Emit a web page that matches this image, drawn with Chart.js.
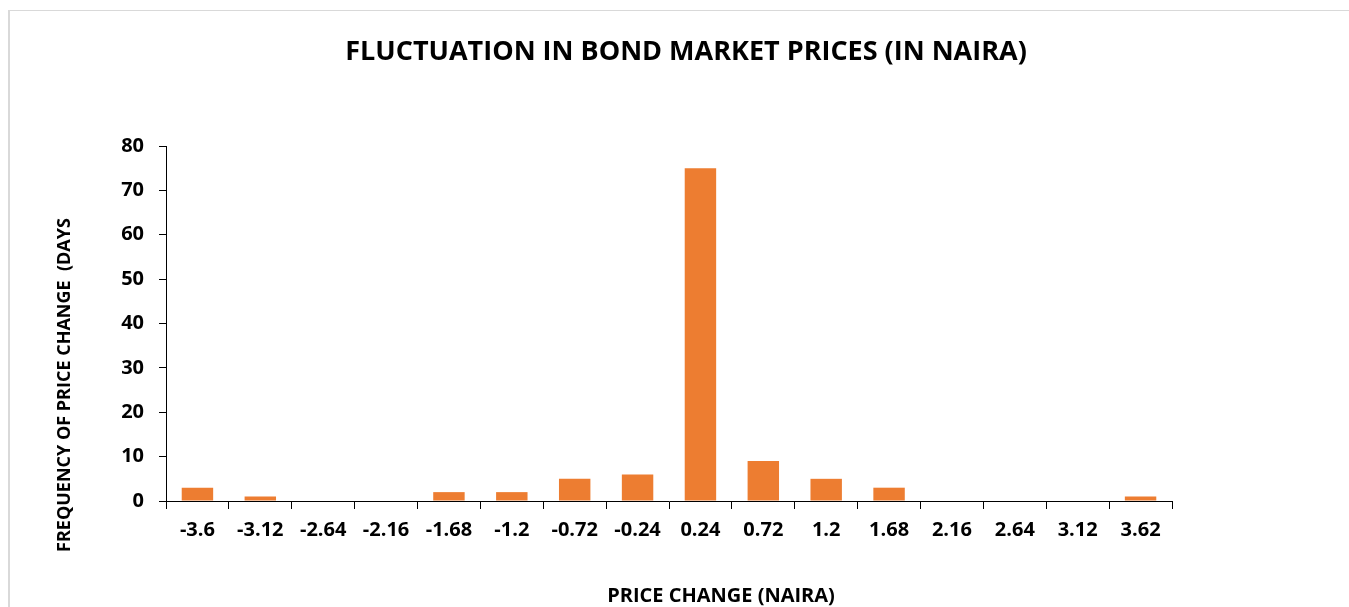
<!DOCTYPE html>
<html>
<head>
<meta charset="utf-8">
<script src="https://cdn.jsdelivr.net/npm/chart.js@4/dist/chart.umd.min.js"></script>
<style>
    html, body { margin: 0; padding: 0; background: #fff; overflow: hidden; }
    #cadre {
        position: absolute;
        left: 8px;
        top: 10px;
        border-top: 1px solid #d9d9d9;
        border-left: 2px solid #d9d9d9;
        width: 1352px;
        height: 610px;
    }
</style>
</head>
<body>
<div id="cadre">
    <canvas id="graphe" width="1352" height="610"></canvas>
</div>
<script>
// données du graphique
const categories = ['-3.6', '-3.12', '-2.64', '-2.16', '-1.68', '-1.2', '-0.72', '-0.24',
                    '0.24', '0.72', '1.2', '1.68', '2.16', '2.64', '3.12', '3.62'];
const frequences = [3, 1, 0, 0, 2, 2, 5, 6, 75, 9, 5, 3, 0, 0, 0, 1];
const yTicks = [0, 10, 20, 30, 40, 50, 60, 70, 80];

const titre = 'FLUCTUATION IN BOND MARKET PRICES (IN NAIRA)';
const titreY = 'FREQUENCY OF PRICE CHANGE  (DAYS';
const titreX = 'PRICE CHANGE (NAIRA)';

const police = '"Open Sans", sans-serif';

// titres dessinés à la main (positions comme dans Excel)
const titres = {
    id: 'titres',
    afterDraw(chart) {
        const ctx = chart.ctx;
        ctx.save();
        ctx.fillStyle = '#000';
        ctx.textAlign = 'center';
        ctx.textBaseline = 'middle';
        ctx.font = 'bold 27px ' + police;
        ctx.fillText(titre, 676, 41);

        ctx.font = 'bold 20px ' + police;
        ctx.fillText(titreX, 711, 585);

        ctx.font = 'bold 18px ' + police;
        ctx.translate(55, 374);
        ctx.rotate(-Math.PI / 2);
        ctx.fillText(titreY, 0, 0);
        ctx.restore();
    }
};

const ctx = document.getElementById('graphe').getContext('2d');
const chartInstance = new Chart(ctx, {
    type: 'bar',
    data: {
        labels: categories,
        datasets: [{
            data: frequences,
            backgroundColor: '#ED7D31',
            borderWidth: 0,
            barPercentage: 0.5,
            categoryPercentage: 1
        }]
    },
    options: {
        responsive: false,
        animation: false,
        layout: {
            padding: { top: 135, right: 190, bottom: 0, left: 0 }
        },
        plugins: {
            legend: { display: false },
            tooltip: { enabled: false },
            title: { display: false }
        },
        scales: {
            x: {
                grid: {
                    display: true,
                    drawOnChartArea: false,
                    drawTicks: true,
                    tickLength: 8,
                    color: '#000'
                },
                border: { color: '#000', width: 1 },
                ticks: {
                    color: '#000',
                    padding: 9,
                    maxRotation: 0,
                    autoSkip: false,
                    font: { family: police, size: 20, weight: 'bold' }
                },
                afterFit(scale) { scale.height = 120; }
            },
            y: {
                min: 0,
                max: 80,
                grid: {
                    display: true,
                    drawOnChartArea: false,
                    drawTicks: true,
                    tickLength: 7,
                    color: '#000'
                },
                border: { color: '#000', width: 1 },
                ticks: {
                    color: '#000',
                    padding: 15,
                    stepSize: 10,
                    font: { family: police, size: 20, weight: 'bold' },
                    callback: (v) => yTicks.includes(v) ? v : ''
                },
                afterFit(scale) { scale.width = 156; }
            }
        }
    },
    plugins: [titres]
});
</script>
</body>
</html>
